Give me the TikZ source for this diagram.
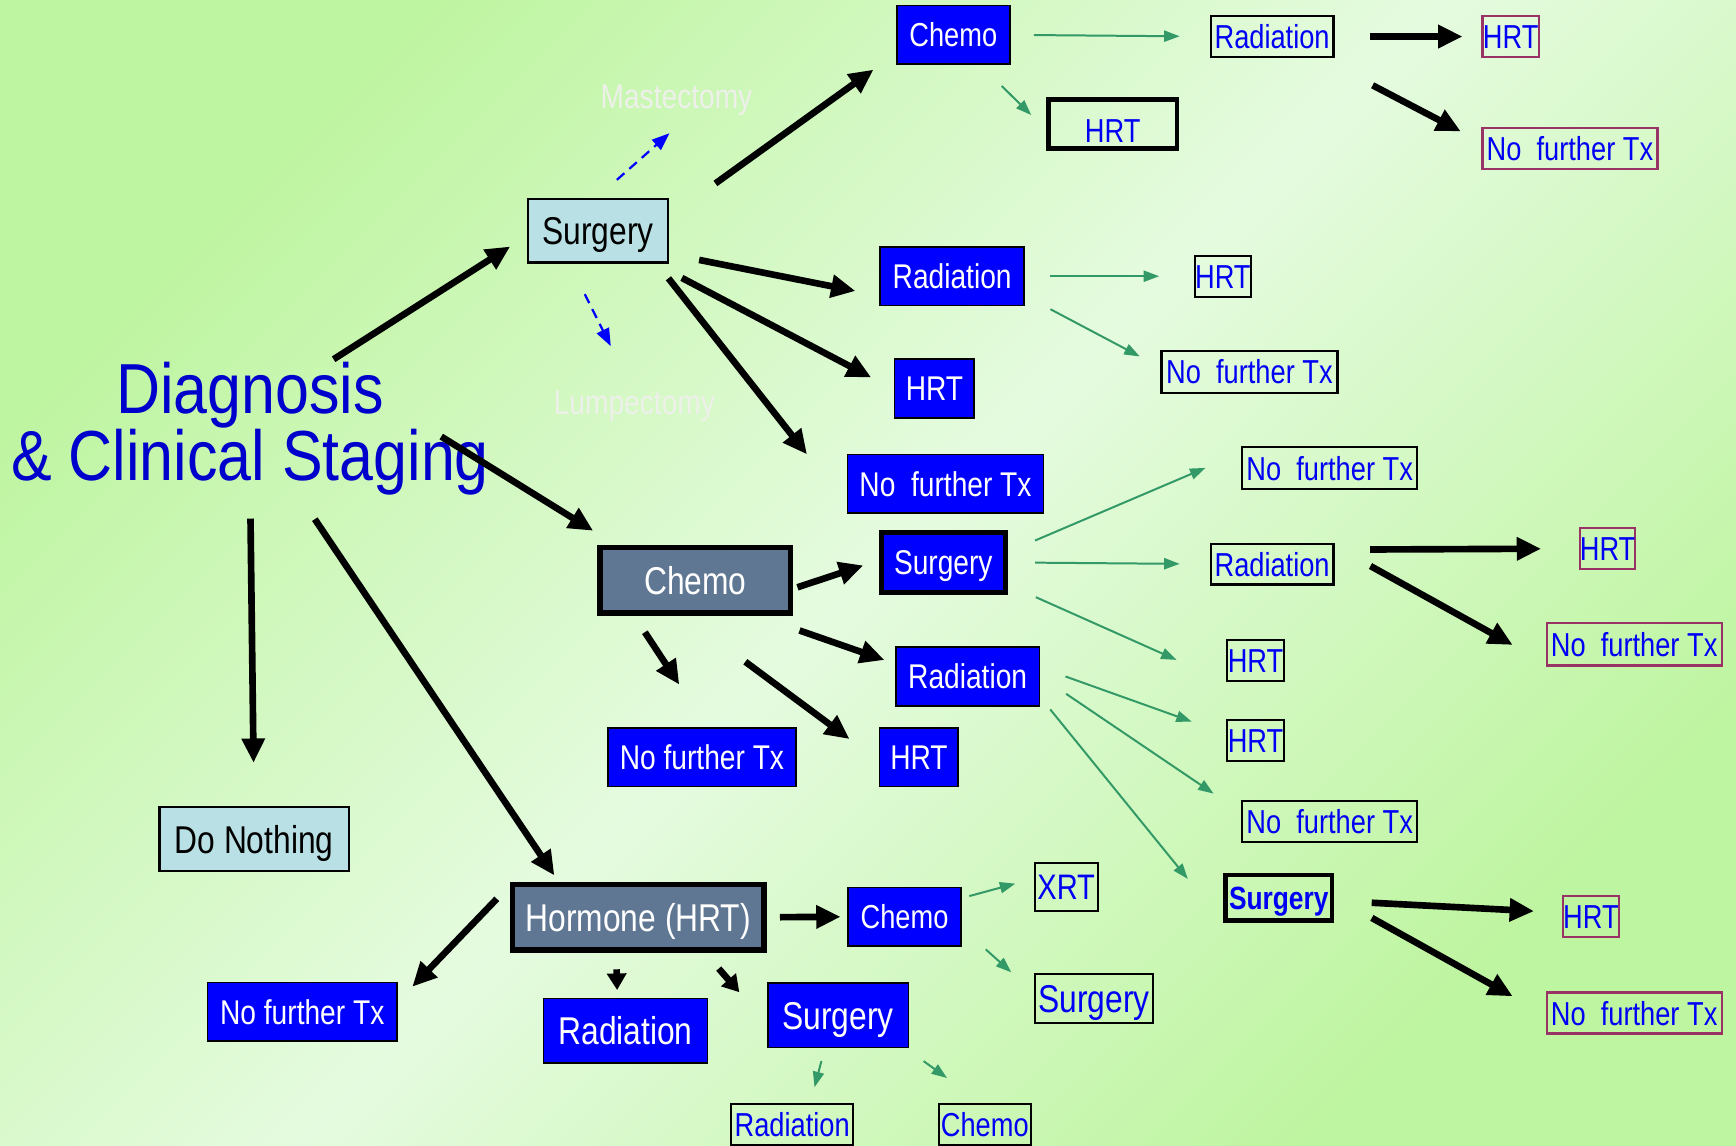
\documentclass[tikz,border=0pt]{standalone}
\usepackage{fontspec}
\setmainfont{Liberation Sans}[FakeStretch=0.82]
\newfontfamily\diagfont{Liberation Sans}[FakeStretch=0.86]
\usetikzlibrary{positioning}
\usetikzlibrary{arrows.meta}
\newcommand{\fsz}[1]{\fontsize{#1}{#1}\selectfont}
\definecolor{bggreen}{RGB}{190,245,160}
\definecolor{bgpale}{RGB}{229,251,223}
\definecolor{boxblue}{RGB}{0,0,255}
\definecolor{txtblue}{RGB}{0,0,245}
\definecolor{diagblue}{RGB}{0,0,204}
\definecolor{slate}{RGB}{95,119,146}
\definecolor{paleteal}{RGB}{185,224,228}
\definecolor{maroon}{RGB}{153,51,102}
\definecolor{arrowgreen}{RGB}{51,153,102}
\definecolor{faint}{RGB}{238,240,234}

\begin{document}
\begin{tikzpicture}[x=1pt,y=-1pt,
  sz/.style 2 args={minimum width=#1pt,minimum height=#2pt},
  fs/.style={font=\fsz{#1},text height=\fpeval{0.72*#1}pt,text depth=0pt},
  bluebox/.style={draw=black,line width=1.5pt,fill=boxblue,text=white,inner sep=0pt,fs=31},
  greybox/.style={draw=black,line width=5pt,fill=slate,text=white,inner sep=0pt,fs=35},
  lightbox/.style={draw=black,line width=2pt,fill=paleteal,text=black,inner sep=0pt,fs=35},
  outbox/.style={draw=black,line width=2pt,text=txtblue,inner sep=0pt,fs=30},
  redbox/.style={draw=maroon,line width=2pt,text=txtblue,inner sep=0pt,fs=30},
  ghost/.style={text=faint,inner sep=0pt,font=\fsz{31}},
  bigarrow/.style={line width=6pt,-{Triangle[length=22pt,width=20pt]}},
  stubarrow/.style={line width=6pt,-{Triangle[length=15pt,width=17pt]}},
  greenarrow/.style={draw=arrowgreen,line width=1.8pt,-{Triangle[length=14pt,width=10pt]}},
  dasharrow/.style={draw=boxblue,line width=2pt,dash pattern=on 9pt off 6pt,-{Triangle[length=16pt,width=12pt]}}]

  % Fondo
  \shade[top color=bggreen,bottom color=bggreen,middle color=bgpale,shading angle=45] (0,0) rectangle (1568,1035);
  \useasboundingbox (0,0) rectangle (1568,1035);

  % Diagnosis
  \node[text=diagblue,align=center,inner sep=0pt,font=\diagfont\fontsize{64}{55}\selectfont] (diag) at (226,387) {Diagnosis\\\& Clinical Staging};

  % Surgery branch
  \node[lightbox,sz={126}{57}] (surgA) at (540,208.5) {Surgery};
  \node[ghost] (mast) at (611,91) {Mastectomy};
  \node[ghost] (lump) at (573,367) {Lumpectomy};
  \node[bluebox,sz={102}{53},fs=30] (chemoA) at (861,31.5) {Chemo};
  \node[outbox,sz={111}{37}] (radA) at (1149,33) {Radiation};
  \node[outbox,line width=4pt,sz={116}{44},text height=33pt] (hrtA) at (1005,112) {HRT\hspace{10pt}};
  \node[redbox,sz={51}{37}] (hrtA2) at (1364.5,33) {HRT};
  \node[redbox,sz={158}{37}] (nftA) at (1418,134) {No\ \ further Tx};
  \node[bluebox,sz={130}{53}] (radB) at (860,249.5) {Radiation};
  \node[outbox,sz={51}{37}] (hrtB) at (1104.5,249.5) {HRT};
  \node[outbox,sz={159}{38}] (nftB) at (1128.5,336) {No\ \ further Tx};
  \node[bluebox,sz={72}{53}] (hrtC) at (844,351) {HRT};
  \node[bluebox,sz={177}{53}] (nftC) at (854,437) {No\ \ further Tx};

  % Chemo branch
  \node[greybox,sz={172}{59}] (chemoM) at (628,524) {Chemo};
  \node[bluebox,line width=4pt,sz={112}{54}] (surgM) at (852,508) {Surgery};
  \node[bluebox,sz={130}{53}] (radM) at (874,611) {Radiation};
  \node[bluebox,sz={170}{53}] (nftM) at (634,684) {No further Tx};
  \node[bluebox,sz={71}{53}] (hrtM) at (830,684) {HRT};
  \node[outbox,sz={158}{38}] (nftD) at (1201,423) {No\ \ further Tx};
  \node[outbox,sz={111}{37}] (radD) at (1149,509.5) {Radiation};
  \node[redbox,sz={50}{37}] (hrtD) at (1452,495.5) {HRT};
  \node[redbox,sz={158}{38}] (nftD2) at (1476,582) {No\ \ further Tx};
  \node[outbox,sz={51}{37}] (hrtE) at (1134,596.5) {HRT};
  \node[outbox,sz={51}{37}] (hrtF) at (1134,669) {HRT};
  \node[outbox,sz={158}{37}] (nftF) at (1201,742) {No\ \ further Tx};
  \node[outbox,line width=4pt,sz={96}{41},fs=29,font=\fsz{29}\bfseries] (surgF) at (1155,811) {Surgery};
  \node[redbox,sz={51}{37}] (hrtG) at (1437,828) {HRT};
  \node[redbox,sz={158}{37}] (nftG) at (1476,915) {No\ \ further Tx};

  % Hormone branch
  \node[lightbox,sz={171}{58}] (nothing) at (229.5,758) {Do Nothing};
  \node[greybox,sz={227}{59}] (horm) at (576.5,828.5) {Hormone (HRT)};
  \node[bluebox,sz={102}{53},fs=30] (chemoH) at (817,828) {Chemo};
  \node[outbox,sz={57}{43},fs=32] (xrt) at (963,801) {XRT};
  \node[outbox,sz={107}{44},fs=35] (surgH) at (988,902) {Surgery};
  \node[bluebox,sz={171}{53}] (nftH) at (273,914) {No further Tx};
  \node[bluebox,sz={148}{58},fs=35] (radH) at (565,931) {Radiation};
  \node[bluebox,sz={127}{58},fs=35] (surgH2) at (757,917) {Surgery};
  \node[outbox,sz={110}{37}] (radH2) at (715.5,1016) {Radiation};
  \node[outbox,sz={83}{37}] (chemoH2) at (889.5,1016) {Chemo};

  % Flechas desde Diagnosis
  \draw[bigarrow,shorten <=4pt,shorten >=18pt] (diag.40) -- (surgA.184);
  \draw[bigarrow,shorten <=-51pt,shorten >=24pt] (diag.-9) -- (chemoM.156);
  \draw[bigarrow,shorten <=21pt,shorten >=39pt] (diag.south) -- (nothing.north);
  \draw[bigarrow,shorten <=26pt,shorten >=7pt] (diag.-54) -- (horm.156);

  % Flechas desde Surgery
  \draw[dasharrow,shorten <=25pt,shorten >=23pt] (surgA.93) -- (mast.-52);
  \draw[dasharrow,shorten <=31pt,shorten >=45pt] (surgA.229) -- (lump.95);
  \draw[bigarrow,shorten <=52pt,shorten >=25pt] (surgA.11) -- (chemoA.198);
  \draw[bigarrow,shorten <=28pt,shorten >=22pt] (surgA.-18) -- (radB.195);
  \draw[bigarrow,shorten <=28pt,shorten >=23pt] (surgA.-30) -- (hrtC.181);
  \draw[bigarrow,shorten <=17pt,shorten >=58pt] (surgA.-29) -- (nftC.192);
  \draw[greenarrow,shorten <=21pt,shorten >=27pt] (chemoA.east) -- (radA.west);
  \draw[greenarrow,shorten <=27pt,shorten >=19pt] (chemoA.-48) -- (hrtA.185);
  \draw[bigarrow,shorten <=32pt,shorten >=17pt] (radA.east) -- (hrtA2.west);
  \draw[bigarrow,shorten <=53pt,shorten >=21pt] (radA.-24) -- (nftA.176);
  \draw[greenarrow,shorten <=23pt,shorten >=31pt] (radB.east) -- (hrtB.west);
  \draw[greenarrow,shorten <=26pt,shorten >=21pt] (radB.-15) -- (nftB.177);

  % Flechas desde Chemo
  \draw[bigarrow,shorten <=4pt,shorten >=15pt] (chemoM.-5) -- (surgM.178);
  \draw[bigarrow,shorten <=41pt,shorten >=10pt] (chemoM.-30) -- (radM.170);
  \draw[bigarrow,shorten <=18pt,shorten >=46pt] (chemoM.210) -- (nftM.80);
  \draw[bigarrow,shorten <=70pt,shorten >=33pt] (chemoM.251) -- (hrtM.185);
  \draw[greenarrow,shorten <=27pt,shorten >=35pt] (surgM.9) -- (nftD.170);
  \draw[greenarrow,shorten <=25pt,shorten >=27pt] (surgM.east) -- (radD.west);
  \draw[greenarrow,shorten <=28pt,shorten >=49pt] (surgM.-19) -- (hrtE.south west);
  \draw[bigarrow,shorten <=32pt,shorten >=34pt] (radD.13) -- (hrtD.west);
  \draw[bigarrow,shorten <=37pt,shorten >=34pt] (radD.16) -- (nftD2.192);
  \draw[greenarrow,shorten <=24pt,shorten >=33pt] (radM.7) -- (hrtF.167);
  \draw[greenarrow,shorten <=28pt,shorten >=30pt] (radM.0) -- (nftF.174);
  \draw[greenarrow,shorten <=14pt,shorten >=51pt] (radM.-16) -- (surgF.south west);
  \draw[bigarrow,shorten <=34pt,shorten >=25pt] (surgF.-3) -- (hrtG.172);
  \draw[bigarrow,shorten <=39pt,shorten >=34pt] (surgF.1) -- (nftG.181);

  % Flechas desde Hormone
  \draw[bigarrow,shorten <=12pt,shorten >=6pt] (horm.east) -- (chemoH.west);
  \draw[bigarrow,shorten <=17pt,shorten >=19pt] (horm.166) -- (nftH.6);
  \draw[stubarrow,shorten <=15pt,shorten >=7pt] (horm.238) -- (radH.104);
  \draw[stubarrow,shorten <=19pt,shorten >=38pt] (horm.-28) -- (surgH2.187);
  \draw[greenarrow,shorten <=7pt,shorten >=17pt] (chemoH.18) -- (xrt.166);
  \draw[greenarrow,shorten <=29pt,shorten >=27pt] (chemoH.-11) -- (surgH.174);
  \draw[greenarrow,shorten <=12pt,shorten >=15pt] (surgH2.-112) -- (radH2.50);
  \draw[greenarrow,shorten <=20pt,shorten >=39pt] (surgH2.-26) -- (chemoH2.97);

\end{tikzpicture}
\end{document}
